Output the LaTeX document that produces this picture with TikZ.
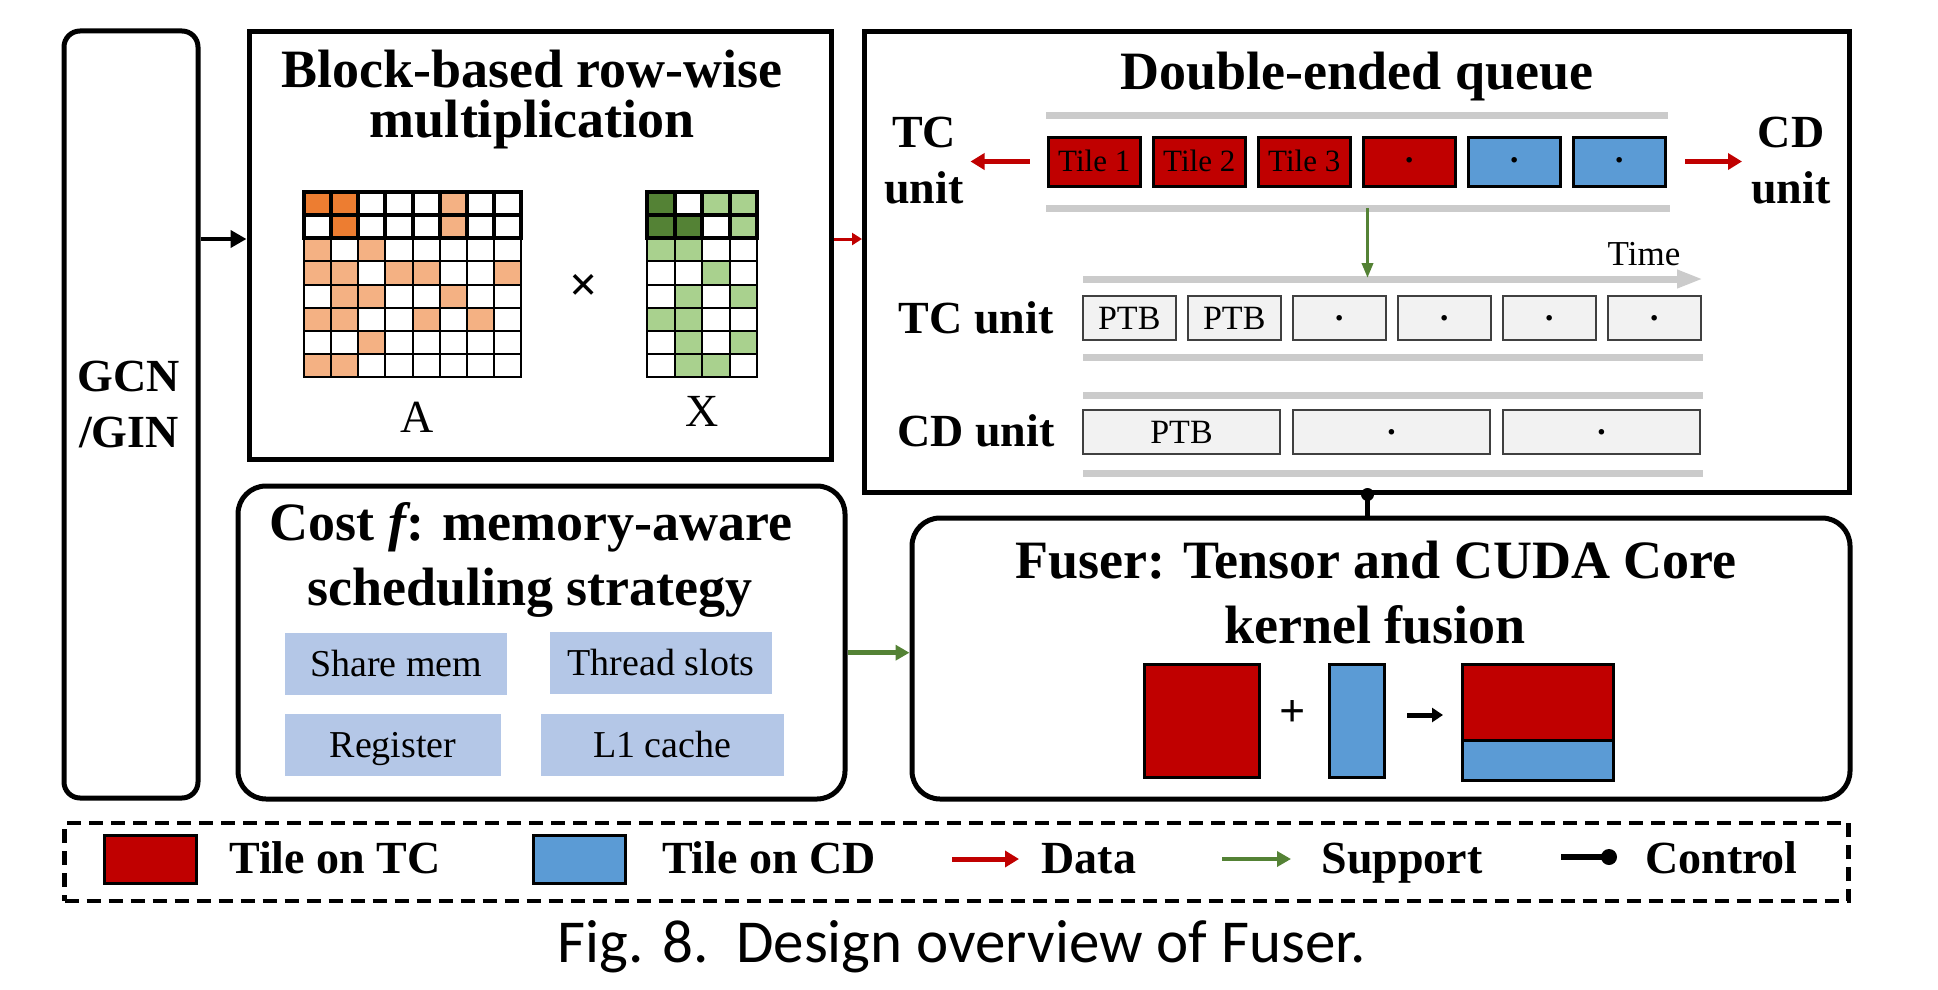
\documentclass[tikz,border=0pt]{standalone}
\usepackage{fontspec}
\setmainfont{Liberation Serif}
\newfontfamily\capfont{Carlito}
\usetikzlibrary{arrows.meta}
\definecolor{tcred}{HTML}{C00000}
\definecolor{cdblue}{HTML}{5B9BD5}
\definecolor{dorange}{HTML}{ED7D31}
\definecolor{lorange}{HTML}{F4B183}
\definecolor{dgreen}{HTML}{548235}
\definecolor{lgreen}{HTML}{A9D18E}
\definecolor{memblue}{HTML}{B4C7E7}
\definecolor{qgray}{HTML}{CBCBCB}
\definecolor{ptbgray}{HTML}{F2F2F2}
\definecolor{supgreen}{HTML}{548235}
\newcommand\fs[1]{\fontsize{#1}{#1}\selectfont}
\begin{document}
\begin{tikzpicture}[x=1pt,y=-1pt,
  box/.style={draw, line width=5pt, inner sep=0pt},
  rbox/.style={box, rounded corners=28pt},
  ttl/.style={font=\bfseries\fs{54}, anchor=base, inner sep=0pt},
  lbl/.style={font=\bfseries\fs{46}, anchor=base, inner sep=0pt},
  tile/.style={draw=black, line width=3pt, minimum width=92.5pt, minimum height=49pt, inner sep=0pt, font=\fs{31}, text height=20.5pt, text depth=0pt},
  ptb/.style={draw=black!75, fill=ptbgray, line width=2pt, minimum height=44pt, inner sep=0pt, font=\fs{34}, text height=22.5pt, text depth=0pt},
  dotf/.style={font=\bfseries\fs{34}},
  mem/.style={fill=memblue, minimum height=62pt, inner sep=0pt, font=\fs{38}, text height=25pt, text depth=0pt},
  qline/.style={qgray, line width=7pt},
  redarrow/.style={tcred, line width=5pt, -{Triangle[length=14pt,width=16pt]}},
  grnarrow/.style={supgreen, line width=4.5pt, -{Triangle[length=14pt,width=15pt]}},
  blkarrow/.style={black, line width=4.5pt, -{Triangle[length=16pt,width=17pt]}},
  ctrl/.style={black, line width=4.5pt},
  cell/.style={line width=2pt},
  blockcell/.style={line width=4pt}
]
\useasboundingbox (0,0) rectangle (1938,990);

% ---------- main boxes ----------
\node[box, rounded corners=16pt, minimum width=134pt, minimum height=767pt] (gcn) at (131,414.5) {};
\node[box, minimum width=582pt, minimum height=427pt] (blk) at (540,245.5) {};
\node[box, minimum width=984.5pt, minimum height=460pt] (dq) at (1356.75,262) {};
\node[rbox, minimum width=607pt, minimum height=313pt] (cost) at (541.5,642.5) {};
\node[rbox, minimum width=938pt, minimum height=281pt] (fus) at (1381,658.5) {};

% ---------- GCN/GIN ----------
\node[lbl] (gcn1) at (129,391) {GCN};
\node[lbl] (gcn2) at (129,447) {/GIN};

% ---------- block-based multiplication ----------
\node[ttl] (blkt1) at (532,88) {Block-based row-wise};
\node[ttl] (blkt2) at (532,137) {multiplication};

% matrix A
\foreach \c/\r in {1/1,2/1,2/2}
  \fill[dorange] ({304+(\c-1)*27.125},{192+(\r-1)*23.125}) rectangle ++(27.125,23.125);
\foreach \c/\r in {6/1,6/2,1/3,3/3,1/4,2/4,4/4,5/4,8/4,2/5,3/5,6/5,1/6,2/6,5/6,7/6,3/7,1/8,2/8}
  \fill[lorange] ({304+(\c-1)*27.125},{192+(\r-1)*23.125}) rectangle ++(27.125,23.125);
\foreach \c in {0,...,7}
  \foreach \r in {2,...,7}
    \draw[cell] ({304+\c*27.125},{192+\r*23.125}) rectangle ++(27.125,23.125);
\foreach \c in {0,...,7}
  \foreach \r in {0,1}
    \draw[blockcell] ({304+\c*27.125},{192+\r*23.125}) rectangle ++(27.125,23.125);

% matrix X
\foreach \c/\r in {1/1,1/2,2/2}
  \fill[dgreen] ({647+(\c-1)*27.5},{192+(\r-1)*23.125}) rectangle ++(27.5,23.125);
\foreach \c/\r in {3/1,4/1,4/2,1/3,2/3,3/4,2/5,4/5,1/6,2/6,2/7,4/7,2/8,3/8}
  \fill[lgreen] ({647+(\c-1)*27.5},{192+(\r-1)*23.125}) rectangle ++(27.5,23.125);
\foreach \c in {0,...,3}
  \foreach \r in {2,...,7}
    \draw[cell] ({647+\c*27.5},{192+\r*23.125}) rectangle ++(27.5,23.125);
\foreach \c in {0,...,3}
  \foreach \r in {0,1}
    \draw[blockcell] ({647+\c*27.5},{192+\r*23.125}) rectangle ++(27.5,23.125);

\node[font=\bfseries\fs{50}, inner sep=0pt] (times) at (584,288) {×};
\node[font=\fs{46}, anchor=base, inner sep=0pt] (labA) at (417,432) {A};
\node[font=\fs{46}, anchor=base, inner sep=0pt] (labX) at (702,426) {X};

% ---------- double-ended queue ----------
\node[ttl] (dqt) at (1357,89) {Double-ended queue};
\node[lbl] (tcq1) at (924,147) {TC};
\node[lbl] (tcq2) at (924,203) {unit};
\node[lbl] (cdq1) at (1791,147) {CD};
\node[lbl] (cdq2) at (1791,203) {unit};

\coordinate (qtopL) at (1046,115); \coordinate (qtopR) at (1668,115);
\coordinate (qbotL) at (1046,208); \coordinate (qbotR) at (1670,208);
\draw[qline] (qtopL) -- (qtopR);
\draw[qline] (qbotL) -- (qbotR);

\node[tile, fill=tcred] (t1) at (1094.25,161.5) {Tile 1};
\node[tile, fill=tcred] (t2) at (1199.25,161.5) {Tile 2};
\node[tile, fill=tcred] (t3) at (1304.25,161.5) {Tile 3};
\node[tile, fill=tcred, dotf] (t4) at (1409.25,161.5) {·};
\node[tile, fill=cdblue, dotf] (t5) at (1514.25,161.5) {·};
\node[tile, fill=cdblue, dotf] (t6) at (1619.25,161.5) {·};

\draw[redarrow] ([xshift=-17pt]t1.west) -- ++(-59pt,0);
\draw[redarrow] ([xshift=18pt]t6.east) -- ++(57pt,0);

\node[font=\fs{35}, anchor=base, inner sep=0pt] (time) at (1644,265) {Time};
\coordinate (tarL) at (1083,279); \coordinate (tarR) at (1703,279);
\draw[qgray, line width=7pt, -{Triangle[length=26pt,width=17pt]}] (tarL) -- (tarR);
\coordinate (gdown) at (1367.5,208);
\coordinate (gdownend) at (1367.5,278);
\draw[supgreen, line width=3.5pt, -{Triangle[length=15pt,width=11pt]}] (gdown) -- (gdownend);

\node[lbl] (tcu) at (976,333) {TC unit};
\node[ptb, minimum width=92.5pt] (p1) at (1129.25,318) {PTB};
\node[ptb, minimum width=92.5pt] (p2) at (1234.25,318) {PTB};
\node[ptb, minimum width=92.5pt, dotf] (p3) at (1339.25,318) {·};
\node[ptb, minimum width=92.5pt, dotf] (p4) at (1444.25,318) {·};
\node[ptb, minimum width=92.5pt, dotf] (p5) at (1549.25,318) {·};
\node[ptb, minimum width=92.5pt, dotf] (p6) at (1654.25,318) {·};
\draw[qline] (1083,357.7) -- (1703,357.7);
\draw[qline] (1083,395.7) -- (1703,395.7);

\node[lbl] (cdu) at (976,446) {CD unit};
\node[ptb, minimum width=197pt] (c1) at (1181.5,432.3) {PTB};
\node[ptb, minimum width=197pt, dotf] (c2) at (1391.5,432.3) {·};
\node[ptb, minimum width=197pt, dotf] (c3) at (1601.5,432.3) {·};
\draw[qline] (1083,473) -- (1703,473);

% ---------- connectors between boxes ----------
\coordinate (ylev) at (0,239);
\draw[blkarrow] (gcn.east |- ylev) -- (blk.west |- ylev);
\draw[tcred, line width=3pt, -{Triangle[length=10pt,width=12pt]}] (blk.east |- ylev) -- (dq.west |- ylev);
\coordinate (ctrlx) at (1367.5,0);
\draw[ctrl] (fus.north -| ctrlx) -- (dq.south -| ctrlx);
\fill (dq.south -| ctrlx) circle (6.5pt);
\coordinate (glev) at (0,652.7);
\draw[grnarrow] (cost.east |- glev) -- (fus.west |- glev);

% ---------- cost box ----------
\node[ttl] (costt1) at (531,540) {Cost {\itshape f}: memory-aware};
\node[ttl] (costt2) at (530,605) {scheduling strategy};
\node[mem, minimum width=222pt] (m1) at (396,664) {Share mem};
\node[mem, minimum width=221.5pt] (m2) at (661,663) {Thread slots};
\node[mem, minimum width=216pt] (m3) at (393,745) {Register};
\node[mem, minimum width=242.6pt] (m4) at (662.3,745) {L1 cache};

% ---------- fuser box ----------
\node[ttl] (fust1) at (1376,578) {Fuser: Tensor and CUDA Core};
\node[ttl] (fust2) at (1375,643) {kernel fusion};
\node[draw=black, line width=3pt, fill=tcred, minimum width=115pt, minimum height=113pt, inner sep=0pt] (fr) at (1201.5,720.5) {};
\node[font=\bfseries\fs{46}, inner sep=0pt] (plus) at (1293,713) {+};
\node[draw=black, line width=3pt, fill=cdblue, minimum width=55pt, minimum height=113pt, inner sep=0pt] (fb) at (1356.5,720.5) {};
\coordinate (fa1) at (1407,715); \coordinate (fa2) at (1443,715);
\draw[black, line width=5pt, -{Triangle[length=11pt,width=14pt]}] (fa1) -- (fa2);
\node[draw=black, line width=3pt, fill=tcred, minimum width=151.5pt, minimum height=76pt, inner sep=0pt] (cr) at (1538,702) {};
\node[draw=black, line width=3pt, fill=cdblue, minimum width=151.5pt, minimum height=40pt, inner sep=0pt] (cb) at (1538,760) {};

% ---------- legend ----------
\node[draw, line width=4.5pt, dash pattern=on 14pt off 8pt, minimum width=1784pt, minimum height=78pt, inner sep=0pt] (leg) at (956.5,862) {};
\node[draw=black, line width=3pt, fill=tcred, minimum width=92pt, minimum height=48pt, inner sep=0pt] (lr) at (150,859) {};
\node[lbl] (lrt) at (335,873) {Tile on TC};
\node[draw=black, line width=3pt, fill=cdblue, minimum width=92pt, minimum height=48pt, inner sep=0pt] (lb) at (579.3,859) {};
\node[lbl] (lbt) at (769,873) {Tile on CD};
\coordinate (ld1) at (952,859); \coordinate (ld2) at (1019,859);
\draw[redarrow] (ld1) -- (ld2);
\node[lbl] (ldt) at (1089,873) {Data};
\coordinate (ls1) at (1222,859); \coordinate (ls2) at (1291,859);
\draw[grnarrow] (ls1) -- (ls2);
\node[lbl] (lst) at (1402,873) {Support};
\coordinate (lc1) at (1561,857); \coordinate (lc2) at (1609,857);
\draw[black, line width=6pt] (lc1) -- (lc2);
\fill (lc2) circle (8pt);
\node[lbl] (lct) at (1721.5,873) {Control};

% ---------- caption ----------
\node[font=\capfont\fs{61}, anchor=base, inner sep=0pt] (cap) at (962,962) {Fig. 8.\ \ Design overview of Fuser.};
\end{tikzpicture}
\end{document}
